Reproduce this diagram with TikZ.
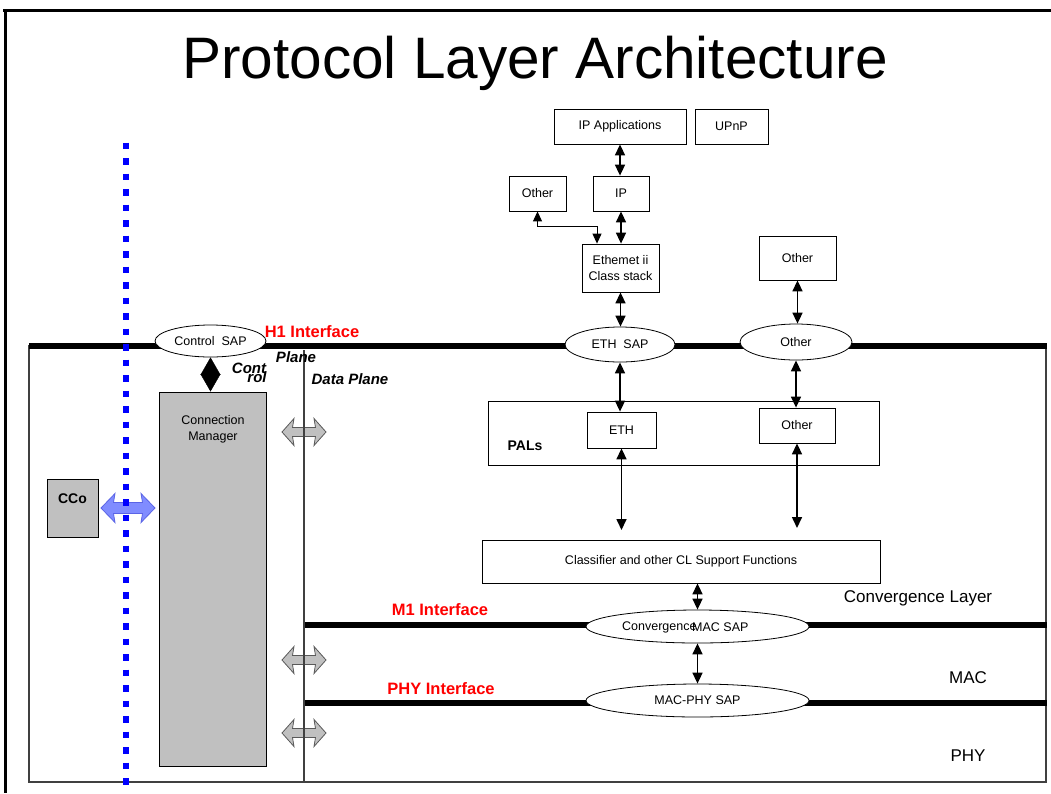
\documentclass[tikz,border=0pt]{standalone}
\usepackage{fontspec}
\setmainfont{Liberation Sans}
\usetikzlibrary{arrows.meta,shapes.geometric}

\definecolor{cmgray}{RGB}{192,192,192}
\definecolor{ccoblue}{RGB}{128,140,255}
\definecolor{ccoedge}{RGB}{90,100,230}
\definecolor{dotblue}{RGB}{0,0,255}

% two-headed block arrow: half length, half head width, half shaft width, head length
\tikzset{pics/blockarrow/.style n args={4}{code={
  \path[pic actions] (-#1,0) -- (-#1+#4,-#2) -- (-#1+#4-1.5,-#3) -- (#1-#4+1.5,-#3)
    -- (#1-#4,-#2) -- (#1,0) -- (#1-#4,#2) -- (#1-#4+1.5,#3) -- (-#1+#4-1.5,#3)
    -- (-#1+#4,#2) -- cycle;
}}}

\begin{document}
\begin{tikzpicture}[x=1pt,y=-1pt,
  box/.style={draw, line width=0.8pt, fill=white, inner sep=0pt, align=center,
    font=\fontsize{12.5}{16}\selectfont},
  sap/.style={ellipse, draw, line width=0.8pt, fill=white, inner sep=0pt,
    font=\fontsize{12.5}{14}\selectfont},
  small/.style={inner sep=0pt, font=\fontsize{12.5}{14}\selectfont},
  link/.style={line width=1.6pt, {Triangle[length=11pt,width=10pt]}-{Triangle[length=11pt,width=10pt]}},
  thinlink/.style={line width=1pt, {Triangle[length=10pt,width=9pt]}-{Triangle[length=10pt,width=9pt]}},
  bus/.style={line width=6pt},
  frameline/.style={line width=1.3pt, black!75},
  iface/.style={text=red, inner sep=0pt, font=\bfseries\fontsize{16.5}{18}\selectfont},
  plane/.style={inner sep=0pt, font=\bfseries\itshape\fontsize{15}{17}\selectfont},
  layer/.style={inner sep=0pt, font=\fontsize{17}{19}\selectfont},
  grayarrow/.style={draw=black!65, fill=cmgray, line width=0.8pt},
]
\useasboundingbox (0,0) rectangle (1051,793);
\fill[white] (0,0) rectangle (1051,793);

% slide frame
\draw[line width=3pt] (3,10) -- (1051,10);
\draw[line width=3pt] (5,10) -- (5,793);

% title
\node[anchor=base, inner sep=0pt, font=\fontsize{58.5}{60}\selectfont] (title) at (535,78) {Protocol Layer Architecture};

% layer area
\draw[frameline] (29,346) rectangle (1046,782);

% interface buses
\coordinate (h1w) at (29,346);
\coordinate (h1e) at (1047,346);
\coordinate (m1w) at (304,625);
\coordinate (m1e) at (1047,625);
\coordinate (phyw) at (304,703);
\coordinate (phye) at (1047,703);
\draw[bus] (h1w) -- (h1e);
\draw[bus] (m1w) -- (m1e);
\draw[bus] (phyw) -- (phye);

% control / data plane divider with block arrows
\pic[grayarrow] at (304,432) {blockarrow={22}{13.5}{4.5}{12}};
\pic[grayarrow] at (304,660) {blockarrow={22}{13.5}{4.5}{12}};
\pic[grayarrow] at (304,733) {blockarrow={22}{13.5}{4.5}{12}};
\coordinate (divtop) at (304,350);
\coordinate (divbot) at (304,782);
\draw[frameline] (divtop) -- (divbot);

% control plane side
\node[draw, line width=1pt, fill=cmgray, minimum width=107pt, minimum height=374pt, inner sep=0pt] (cm) at (213,579) {};
\node[small, align=center, font=\fontsize{12.5}{16}\selectfont] (cmtext) at (213,429) {Connection\\Manager};
\node[sap, minimum width=111pt, minimum height=32pt] (csap) at (210.5,341) {Control\ \ SAP};
\draw[line width=0.4pt, {Triangle[length=17.5pt,width=20pt]}-{Triangle[length=17.5pt,width=20pt]}]
  (csap.south) -- (csap.south |- cm.north);

\node[draw, line width=1pt, fill=cmgray, minimum width=51pt, minimum height=58pt, inner sep=0pt] (cco) at (72.5,508) {};
\node[inner sep=0pt, font=\bfseries\fontsize{14}{16}\selectfont] (ccotext) at (72.5,499) {CCo};
\pic[draw=ccoedge, fill=ccoblue, line width=0.8pt] at (128,508) {blockarrow={27}{14.5}{5.5}{14}};
\coordinate (dottop) at (126,142.5);
\coordinate (dotbot) at (126,793);
\draw[dotblue, line width=6pt, dash pattern=on 6.5pt off 9pt] (dottop) -- (dotbot);

% plane and interface labels
\node[iface] (h1) at (312,332) {H1 Interface};
\node[plane] (plane1) at (296,357) {Plane};
\node[plane] (cont) at (249,368) {Cont};
\node[plane] (rol) at (257,377) {rol};
\node[plane] (dplane) at (350,379) {Data Plane};
\node[iface] (m1) at (440,610) {M1 Interface};
\node[iface] (phyif) at (441,689) {PHY Interface};
\node[layer] (cl) at (918,598) {Convergence Layer};
\node[layer] (mac) at (968,678) {MAC};
\node[layer] (phy) at (968,756) {PHY};

% upper protocol stack
\node[box, minimum width=132pt, minimum height=35pt] (ipapp) at (620,126.5) {IP Applications};
\node[box, minimum width=73pt, minimum height=35pt] (upnp) at (731.5,126.5) {UPnP};
\node[box, minimum width=57pt, minimum height=35pt] (otherl) at (537.5,193.5) {Other};
\node[box, minimum width=56pt, minimum height=35pt] (ip) at (621,193.5) {IP};
\node[box, minimum width=77pt, minimum height=48pt] (eth2) at (620.5,268) {Ethemet ii\\Class stack};
\node[box, minimum width=77pt, minimum height=44pt] (othertop) at (797.5,258) {Other};

\node[sap, minimum width=110pt, minimum height=35pt] (ethsap) at (620,344.5) {ETH\ \ SAP};
\node[sap, minimum width=112pt, minimum height=36pt] (othersap) at (796,342) {Other};

\draw[link] (ipapp.south) -- (ipapp.south |- ip.north);
\draw[link] (ip.south) -- (ip.south |- eth2.north);
\coordinate (elbow) at (597,226);
\draw[thinlink] (otherl.south) |- (elbow) -- (elbow |- eth2.north);
\draw[link] (eth2.south) -- (eth2.south |- ethsap.north);
\draw[link] (othertop.south) -- (othertop.south |- othersap.north);

% protocol adaptation layers
\node[box, minimum width=391pt, minimum height=64pt] (pals) at (683.5,433) {};
\node[inner sep=0pt, font=\bfseries\fontsize{14}{16}\selectfont] (palstext) at (525,446) {PALs};
\node[box, minimum width=69pt, minimum height=36pt] (ethpal) at (621.5,430) {ETH};
\node[box, minimum width=76pt, minimum height=35pt] (otherpal) at (797,425.5) {Other};
\draw[link] (ethsap.south) -- (ethsap.south |- ethpal.north);
\draw[link] (othersap.south) -- (othersap.south |- otherpal.north);

\coordinate (ethdrop) at (621.5,530);
\coordinate (otherdrop) at (797,528);
\draw[link] (ethpal.south) -- (ethdrop);
\draw[link] (otherpal.south) -- (otherdrop);

% convergence layer and lower SAPs
\node[box, minimum width=398pt, minimum height=43pt] (classif) at (681,561.5) {Classifier and other CL Support Functions};
\node[sap, minimum width=223pt, minimum height=33pt] (cmac) at (697.5,626.5) {};
\node[small, anchor=west] (cmacl) at (622,627) {Convergence};
\node[small, anchor=west] (cmacr) at (692,627) {MAC SAP};
\node[sap, minimum width=223pt, minimum height=33pt] (macphy) at (697.5,700.5) {MAC-PHY SAP};
\draw[link] (cmac.north |- classif.south) -- (cmac.north);
\draw[link] (cmac.south) -- (macphy.north);
\end{tikzpicture}
\end{document}
